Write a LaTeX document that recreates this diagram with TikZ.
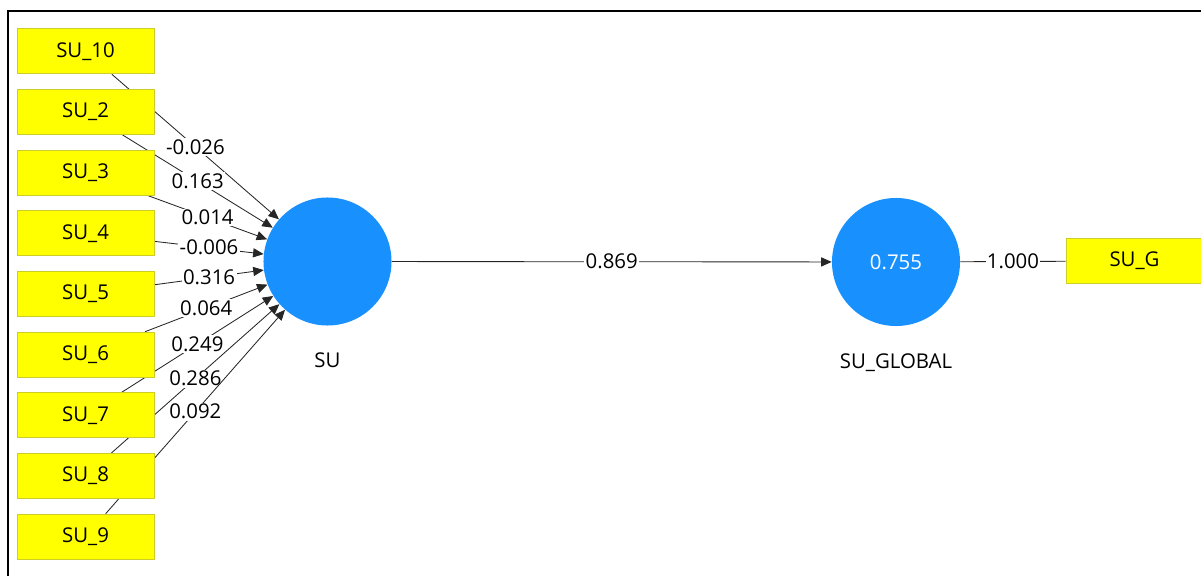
\documentclass[tikz,border=0pt]{standalone}
\usepackage{fontspec}
\setmainfont{Open Sans}
\usetikzlibrary{arrows.meta,matrix,positioning,backgrounds}
\tikzset{>={Triangle[length=7.5pt,width=6.5pt]}}
\definecolor{indyellow}{RGB}{255,255,0}
\definecolor{indborder}{RGB}{205,205,40}
\definecolor{lvblue}{RGB}{24,145,255}

\begin{document}
\begin{tikzpicture}[x=0.025cm,y=-0.025cm,font=\fontsize{14.5}{17}\selectfont]

\tikzstyle{ind}=[draw=indborder,line width=0.6pt,fill=indyellow,minimum width=3.425cm,minimum height=1.125cm,inner sep=0pt]
\tikzstyle{lv}=[circle,fill=lvblue,minimum size=3.2cm,inner sep=0pt]
\tikzstyle{w}=[midway,fill=white,inner sep=1pt]
\tikzstyle{ln}=[draw=black!85,line width=0.6pt]

  \useasboundingbox (0,0) rectangle (1201,576);
  \draw[line width=1.5pt] (8,600) -- (8,11) -- (1220,11);

  \matrix (m) at (85.5,294)
 [matrix of nodes, row sep=0.37cm,
  nodes={ind}]
 {
    SU\_10 \\
    SU\_2 \\
    SU\_3 \\
    SU\_4 \\
    SU\_5 \\
    SU\_6 \\
    SU\_7 \\
    SU\_8 \\
    SU\_9 \\
 };

 \node[lv] (su) at (327.5,261.5) {};
 \node[below=0.55cm of su] (sulab) {SU};
 \node[lv,text=white] (glob) at (896,262) {0.755};
 \node[below=0.55cm of glob] (globlab) {SU\_GLOBAL};
 \node[ind] (sug) at (1134.5,261) {SU\_G};

 \begin{scope}[on background layer]
 \draw[ln,->] (m-1-1) -- node[w] {-0.026} (su);
 \draw[ln,->] (m-2-1) -- node[w] {0.163} (su);
 \draw[ln,->] (m-3-1) -- node[w] {0.014} (su);
 \draw[ln,->] (m-4-1) -- node[w] {-0.006} (su);
 \draw[ln,->] (m-5-1) -- node[w] {0.316} (su);
 \draw[ln,->] (m-6-1) -- node[w] {0.064} (su);
 \draw[ln,->] (m-7-1) -- node[w] {0.249} (su);
 \draw[ln,->] (m-8-1) -- node[w] {0.286} (su);
 \draw[ln,->] (m-9-1) -- node[w] {0.092} (su);
 \end{scope}

 \draw[ln,->] (su) -- node[w] {0.869} (glob);
 \draw[ln] (glob) -- node[w] {1.000} (sug);
\end{tikzpicture}
\end{document}
